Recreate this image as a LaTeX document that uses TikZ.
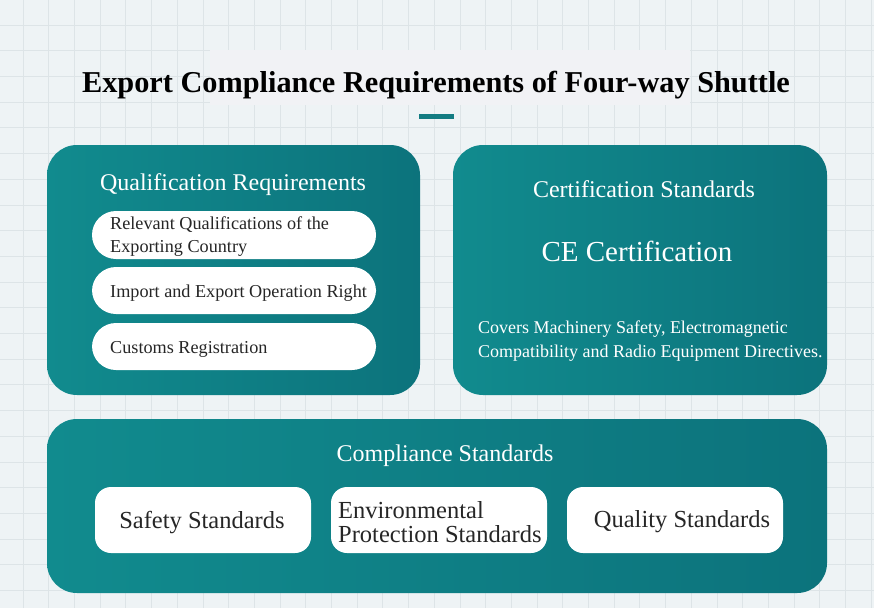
\documentclass[tikz,border=0pt]{standalone}
\usepackage{fontspec}
\setmainfont{Liberation Serif}
\definecolor{bgc}{HTML}{EEF3F5}
\definecolor{gridc}{HTML}{DDE4E7}
\definecolor{tealL}{HTML}{118B8E}
\definecolor{tealR}{HTML}{0C737C}
\definecolor{barc}{HTML}{137C82}
\definecolor{titlebg}{HTML}{F1F2F5}
\tikzset{
  panel/.style={rounded corners=30pt, left color=tealL, right color=tealR, draw=none},
  pill/.style={rounded corners=24pt, fill=white, draw=none},
  stdbox/.style={rounded corners=16pt, fill=white, draw=none},
  head/.style={text=white, font=\fontsize{24}{28}\selectfont, inner sep=0pt},
  pilltext/.style={text=black!85, font=\fontsize{18.2}{23}\selectfont, align=left, anchor=west, inner sep=0pt},
  stdtext/.style={text=black!85, font=\fontsize{24.5}{23.5}\selectfont, align=left, inner sep=0pt},
}
\begin{document}
\begin{tikzpicture}[x=1pt,y=1pt]
\useasboundingbox (0,0) rectangle (874,-608);
\fill[bgc] (0,0) rectangle (874,-608);
\foreach \i in {0,...,33} {
  \draw[gridc, line width=0.8pt] ({23+25.7*\i},0) -- ({23+25.7*\i},-608);
}
\foreach \j in {0,...,23} {
  \draw[gridc, line width=0.8pt] (0,{-25-25.7*\j}) -- (874,{-25-25.7*\j});
}
% title
\fill[titlebg] (210,-50) rectangle (690,-105);
\node[font=\bfseries\fontsize{30.3}{34}\selectfont, text=black, inner sep=0pt] (title) at (436,-85) {Export Compliance Requirements of Four-way Shuttle};
\fill[barc] (419,-114) rectangle (454,-119);

% left panel
\path[panel] (47,-145) rectangle (420,-395);
\node[head] (qual) at (233,-185) {Qualification Requirements};
\path[pill] (92,-211) rectangle (376,-259);
\path[pill] (92,-267) rectangle (376,-314);
\path[pill] (92,-323) rectangle (376,-370);
\node[pilltext] (q1) at (110,-237) {Relevant Qualifications of the\\Exporting Country};
\node[pilltext] (q2) at (110,-293) {Import and Export Operation Right};
\node[pilltext] (q3) at (110,-349) {Customs Registration};

% right panel
\path[panel] (453,-145) rectangle (827,-395);
\node[head] (cert) at (644,-189) {Certification Standards};
\node[text=white, font=\fontsize{29}{32}\selectfont, inner sep=0pt] (ce) at (637,-251) {CE Certification};
\node[text=white, font=\fontsize{18}{23.5}\selectfont, align=left, anchor=west, inner sep=0pt] (desc) at (478,-341) {Covers Machinery Safety, Electromagnetic\\Compatibility and Radio Equipment Directives.};

% bottom panel
\path[panel] (47,-419) rectangle (827,-593);
\node[head] (comp) at (445,-456) {Compliance Standards};
\path[stdbox] (95,-487) rectangle (311,-553);
\path[stdbox] (331,-487) rectangle (547,-553);
\path[stdbox] (567,-487) rectangle (783,-553);
\node[stdtext] (s1) at (202,-523) {Safety Standards};
\node[stdtext, anchor=west] (s2) at (338,-522) {Environmental\\Protection Standards};
\node[stdtext] (s3) at (682,-522) {Quality Standards};
\end{tikzpicture}
\end{document}
